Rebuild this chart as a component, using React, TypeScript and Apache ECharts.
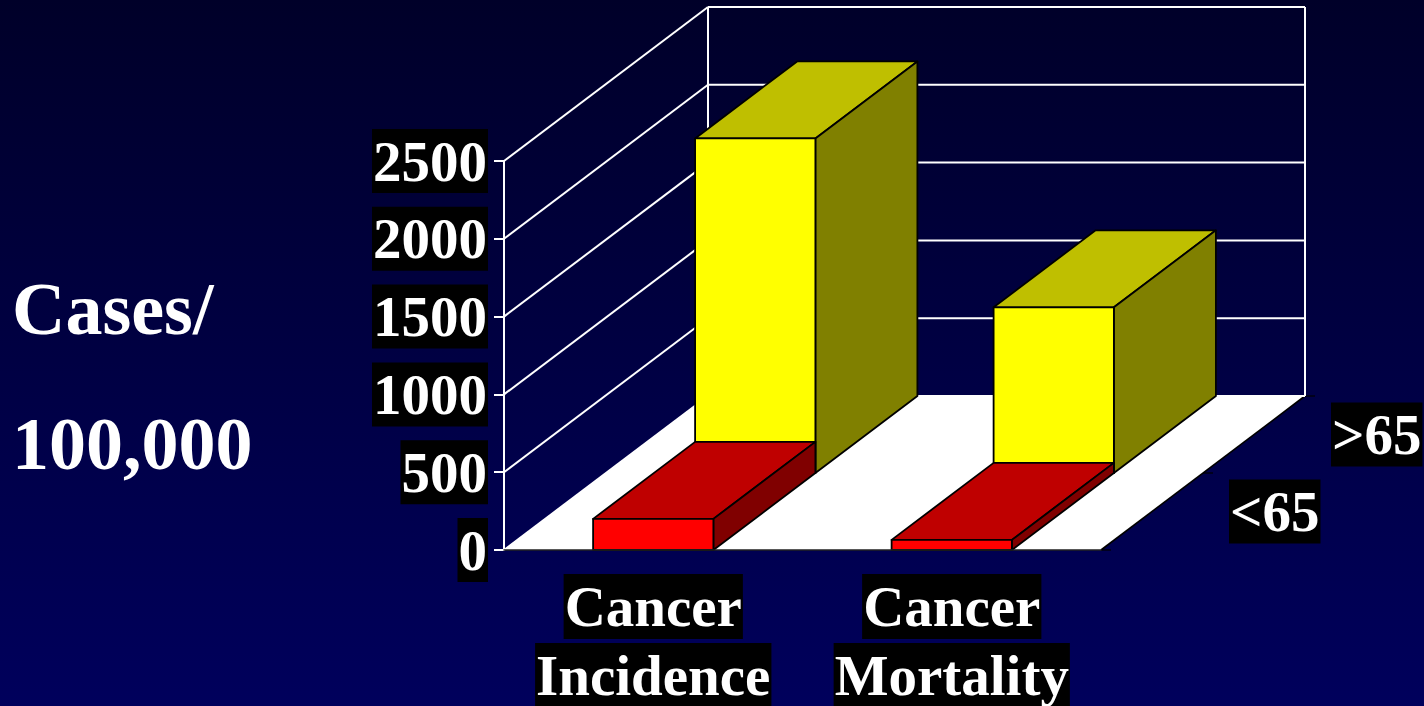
import React, { useEffect, useRef } from "react";
import * as echarts from "echarts";

const categories = ["Cancer\nIncidence", "Cancer\nMortality"];
const under65 = [200, 65];
const over65 = [2150, 1065];
const depthLabels = ["<65", ">65"];
const valueTicks = [0, 500, 1000, 1500, 2000, 2500];
const yAxisTitle = ["Cases/", "100,000"];

const SERIF = '"Liberation Serif", "Times New Roman", serif';
const LABEL_FONT = `bold 57px ${SERIF}`;

// Oblique projection of the chart's depth axis, in pixels for the whole depth.
const DEPTH_DX = 204;
const DEPTH_DY = -154;
const BAR_RATIO = 0.403;

const project = (p: number[], z: number) => [p[0] + DEPTH_DX * z, p[1] + DEPTH_DY * z];

const line = (a: number[], b: number[], stroke: string, lineWidth = 2) => ({
  type: "line",
  shape: { x1: a[0], y1: a[1], x2: b[0], y2: b[1] },
  style: { stroke, lineWidth },
});

const quad = (pts: number[][], fill: string) => ({
  type: "polygon",
  shape: { points: pts },
  style: { fill, stroke: "#000", lineWidth: 1.8, lineJoin: "round" },
});

// Floor plate, its edges and the tick marks and labels of the depth axis.
const renderFloor = (params: any) => {
  const g = params.coordSys;
  const a = [g.x, g.y + g.height];
  const b = [g.x + g.width, g.y + g.height];
  const children: any[] = [
    {
      type: "polygon",
      shape: { points: [a, b, project(b, 1), project(a, 1)] },
      style: { fill: "#fff" },
    },
    line(a, project(a, 1), "#bbb", 1),
    line(b, project(b, 1), "#000", 1.6),
  ];
  [0, 0.5, 1].forEach((z) => {
    const p = project(b, z);
    children.push(line(p, [p[0] + 10, p[1]], "#000", 1.2));
  });
  depthLabels.forEach((text, i) => {
    const p = project(b, (i + 0.5) / depthLabels.length);
    children.push({
      type: "text",
      style: {
        text,
        x: p[0] + 77,
        y: p[1],
        font: LABEL_FONT,
        fill: "#fff",
        backgroundColor: "#000",
        lineHeight: 64,
        padding: [0, 1],
        align: "left",
        verticalAlign: "middle",
      },
    });
  });
  return { type: "group", children };
};

// One gridline per value tick: along the left wall, then across the back wall.
const renderGridline = (params: any, api: any) => {
  const g = params.coordSys;
  const y = api.coord([0, api.value(0)])[1];
  const front = [g.x, y];
  const back = project(front, 1);
  const right = [back[0] + g.width, back[1]];
  return { type: "group", children: [line(front, back, "#fff"), line(back, right, "#fff")] };
};

// Left-wall and back-wall verticals rise from the floor to the highest tick.
const renderWallEdges = (params: any) => {
  const g = params.coordSys;
  const top = project([g.x, g.y], 1);
  const bottom = project([g.x, g.y + g.height], 1);
  return {
    type: "group",
    children: [
      line(top, bottom, "#fff"),
      line([top[0] + g.width, top[1]], [bottom[0] + g.width, bottom[1]], "#fff"),
    ],
  };
};

// Builds a box renderer for the bar row that sits at the given depth slot.
const boxRenderer =
  (slot: number, front: string, top: string, side: string) => (_params: any, api: any) => {
    const cx = api.coord([api.value(0), 0])[0];
    const base = api.coord([api.value(0), 0])[1];
    const peak = api.coord([api.value(0), api.value(1)])[1];
    const half = (api.size([1, 0])[0] * BAR_RATIO) / 2;
    const zNear = slot / depthLabels.length;
    const zFar = (slot + 1) / depthLabels.length;
    const tl = project([cx - half, peak], zNear);
    const tr = project([cx + half, peak], zNear);
    const bl = project([cx - half, base], zNear);
    const br = project([cx + half, base], zNear);
    const tlFar = project([cx - half, peak], zFar);
    const trFar = project([cx + half, peak], zFar);
    const brFar = project([cx + half, base], zFar);
    return {
      type: "group",
      children: [
        quad([tl, tr, trFar, tlFar], top),
        quad([tr, br, brFar, trFar], side),
        quad([tl, tr, br, bl], front),
      ],
    };
  };

const rows = (values: number[]) => values.map((v, i) => [i, v]);

export default function App() {
  const ref = useRef<HTMLDivElement>(null);

  useEffect(() => {
    document.body.style.margin = "0";
    const chart = echarts.init(ref.current!, null, { renderer: "svg" });
    chart.setOption({
      animation: false,
      backgroundColor: {
        type: "linear",
        x: 0,
        y: 0,
        x2: 0,
        y2: 1,
        colorStops: [
          { offset: 0, color: "#000029" },
          { offset: 1, color: "#00005c" },
        ],
      },
      grid: { left: 504, top: 161, width: 597, height: 389, outerBoundsMode: "none" },
      graphic: [
        {
          type: "text",
          left: 12,
          top: 272,
          style: { text: yAxisTitle[0], font: `bold 74px ${SERIF}`, fill: "#fff" },
        },
        {
          type: "text",
          left: 12,
          top: 407,
          style: { text: yAxisTitle[1], font: `bold 74px ${SERIF}`, fill: "#fff" },
        },
      ],
      xAxis: {
        type: "category",
        data: categories,
        z: 5,
        axisLine: { lineStyle: { color: "#222", width: 1.6 } },
        axisTick: { length: 10, lineStyle: { color: "#000", width: 1.2 } },
        axisLabel: {
          interval: 0,
          margin: 24,
          formatter: (v: string) => {
            const [first, second] = v.split("\n");
            return `{box|${first}}\n{gap| }\n{box|${second}}`;
          },
          rich: {
            box: {
              fontFamily: SERIF,
              fontWeight: "bold",
              fontSize: 57,
              color: "#fff",
              backgroundColor: "#000",
              lineHeight: 65,
              height: 65,
              padding: [0, 1],
            },
            gap: { fontSize: 1, lineHeight: 4, height: 4 },
          },
        },
      },
      yAxis: {
        type: "value",
        min: 0,
        max: 2500,
        interval: 500,
        splitLine: { show: false },
        axisLine: { show: true, lineStyle: { color: "#fff", width: 2 } },
        axisTick: { show: true, length: 10, lineStyle: { color: "#fff", width: 2 } },
        axisLabel: {
          margin: 16,
          formatter: (v: number) => String(v),
          color: "#fff",
          fontFamily: SERIF,
          fontWeight: "bold",
          fontSize: 57,
          backgroundColor: "#000",
          lineHeight: 58,
          padding: [0, 1, 6, 1],
        },
      },
      series: [
        { type: "custom", z: 1, silent: true, renderItem: renderFloor, data: [[0]] },
        {
          type: "custom",
          z: 2,
          silent: true,
          renderItem: renderGridline,
          encode: { y: 0 },
          data: valueTicks.map((v) => [v]),
        },
        { type: "custom", z: 2, silent: true, renderItem: renderWallEdges, data: [[0]] },
        {
          name: depthLabels[1],
          type: "custom",
          z: 3,
          renderItem: boxRenderer(1, "#ffff00", "#bfbf00", "#808000"),
          encode: { x: 0, y: 1 },
          data: rows(over65),
        },
        {
          name: depthLabels[0],
          type: "custom",
          z: 4,
          renderItem: boxRenderer(0, "#ff0000", "#bf0000", "#800000"),
          encode: { x: 0, y: 1 },
          data: rows(under65),
        },
      ],
    });
    return () => chart.dispose();
  }, []);

  return <div ref={ref} style={{ position: "absolute", left: 0, top: 0, width: 1424, height: 706 }} />;
}
